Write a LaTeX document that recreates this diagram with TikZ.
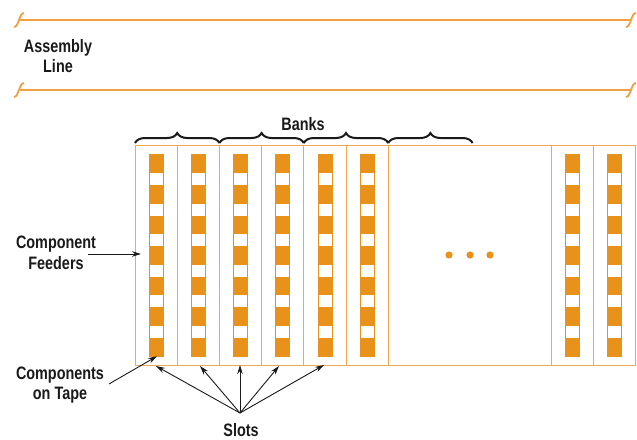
\documentclass[tikz,border=0pt]{standalone}
\usepackage{fontspec}
\newfontfamily\labelfont{Liberation Sans Bold}[FakeStretch=0.8]
\usetikzlibrary{decorations.pathreplacing,arrows.meta,calc}
\definecolor{tapeorange}{HTML}{E8921C}
\definecolor{frameorange}{HTML}{EDA850}
\definecolor{lineorange}{HTML}{F0A040}
\definecolor{ink}{HTML}{1A1A1A}

\begin{document}
\begin{tikzpicture}[x=1pt,y=-1pt,
  lbl/.style={font=\labelfont\fontsize{18}{20.5}\selectfont, align=center, inner sep=0pt, text=ink},
  feedframe/.style={draw=frameorange, line width=1.4pt},
  rail/.style={draw=lineorange, line width=1.8pt},
  pointer/.style={draw=ink, line width=0.9pt, -{Stealth[length=9pt,width=5.5pt]}},
  bank/.style={draw=ink, line width=2pt, decorate, decoration={brace, amplitude=10pt}},
  tape/.style={fill=tapeorange, draw=none, minimum width=15pt, minimum height=203pt, inner sep=0pt},
]
\useasboundingbox (0,0) rectangle (637,439);

% assembly line rails with break marks at both ends
\foreach \ry in {20,90}{
  \draw[rail] (19,\ry) -- (631,\ry);
  \draw[rail] (14,\ry+7) .. controls (19,\ry+7) and (19,\ry-7) .. (24,\ry-7);
  \draw[rail] (626,\ry+7) .. controls (631,\ry+7) and (631,\ry-7) .. (636,\ry-7);
}
\node[lbl] (assembly) at (58,56) {Assembly\\Line};

% feeder frame and column dividers
\draw[feedframe] (135.5,145.5) rectangle (635.5,365.5);
\foreach \dx in {177.5,219.5,261.5,303.5,346.5,388.5,551.5,593.5}
  \draw[feedframe] (\dx,145.5) -- (\dx,365.5);

% component tapes
\foreach \cx [count=\i] in {156,198,240.5,282.5,325,367,572.5,614.5}{
  \node[tape] (t\i) at (\cx,255.5) {};
  \foreach \k in {0,...,5}
    \fill[white] (\cx-6.5,173+30.5*\k) rectangle (\cx+6.5,185+30.5*\k);
}

% ellipsis for the omitted feeders
\foreach \ex in {449,470,490}
  \fill[tapeorange] (\ex,255) circle (3.6);

% banks
\draw[bank] (135,143) -- (219.4,143);
\draw[bank] (219.4,143) -- (303.8,143);
\draw[bank] (303.8,143) -- (388.2,143);
\draw[bank] (388.2,143) -- (472.6,143);
\node[lbl] (banks) at (303,124) {Banks};

% component feeders
\node[lbl] (feeders) at (56,253) {Component\\Feeders};
\coordinate (feedstart) at (88,254);
\coordinate (feedend) at (141,254);
\draw[pointer] (feedstart) -- (feedend);

% components on tape
\node[lbl] (ontape) at (60,385) {Components\\on Tape};
\coordinate (tapestart) at (109,384);
\draw[pointer] (tapestart) -- ($(t1.south)+(1,-1)$);

% slots
\node[lbl] (slots) at (241,430) {Slots};
\coordinate (hub) at (240,413);
\coordinate (s1) at (156,366);
\coordinate (s2) at (200,366);
\coordinate (s3) at (240,365);
\coordinate (s4) at (279,366);
\coordinate (s5) at (324,365);
\foreach \s in {s1,s2,s3,s4,s5}
  \draw[pointer] (hub) -- (\s);
\end{tikzpicture}
\end{document}
